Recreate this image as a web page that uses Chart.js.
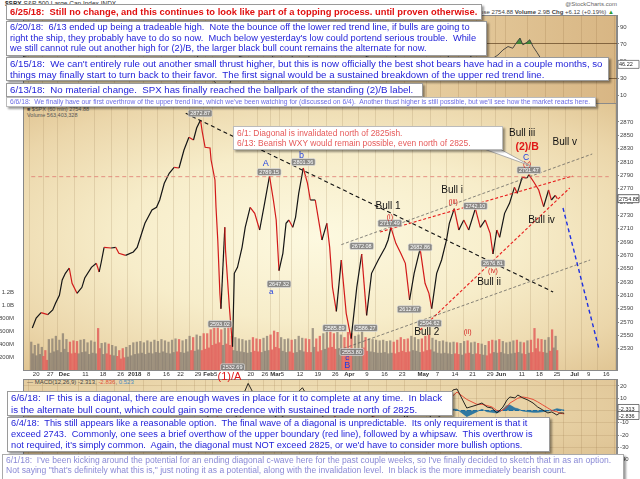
<!DOCTYPE html>
<html>
<head>
<meta charset="utf-8">
<title>SPX 60 min</title>
<script src="https://cdn.jsdelivr.net/npm/chart.js@4.4.1/dist/chart.umd.min.js"></script>
<style>
  body { margin:0; width:640px; height:479px; overflow:hidden; position:relative; background:#fff;
         font-family:"Liberation Sans", Arial, sans-serif; }
  .bg { position:absolute; left:23px; width:594px; border:1px solid #8a8a8a; box-sizing:border-box; }
  #bgRsi { top:15px; height:89px; background:linear-gradient(90deg,#f0dfb6 0%,#ecd6aa 55%,#d8b684 100%); }
  #bgPrice { top:103px; height:268px; background:radial-gradient(ellipse 75% 70% at 50% 50%,#fdf9e0 0%,#f7edca 45%,#ebd6aa 80%,#dfc391 100%); }
  #bgMacd { top:379px; height:100px; background:radial-gradient(ellipse 80% 90% at 45% 30%,#f3e5bd 0%,#e6cfa2 60%,#d9bb8b 100%); }
  canvas { position:absolute; left:0; }
  .tiny { position:absolute; font-size:6px; color:#555; white-space:nowrap; }
  .box { position:absolute; background:#fff; border:1px solid #9a9a9a; box-shadow:2px 2px 2px rgba(0,0,0,.4);
         box-sizing:border-box; padding-left:3px; z-index:5; overflow:hidden; }
  .box > div { white-space:pre; }
</style>
</head>
<body>
<div class="bg" id="bgRsi"></div>
<div class="bg" id="bgPrice"></div>
<div class="bg" id="bgMacd"></div>

<div class="tiny" style="left:5px;top:0px;font-size:6.5px;color:#333"><b>$SPX</b> S&amp;P 500 Large Cap Index INDX</div>
<div class="tiny" style="right:23px;top:1px;color:#666">@StockCharts.com</div>
<div class="tiny" style="right:26px;top:9px;color:#444">Close 2754.88 <b>Volume</b> 2.9B <b>Chg</b> +6.12 (+0.19%) <span style="color:#2a9a2a">&#9650;</span></div>
<div class="tiny" style="left:27px;top:106px;font-size:5.5px">&#9632; $SPX (60 min) 2754.88</div>
<div class="tiny" style="left:27px;top:112px;font-size:5.5px">Volume 563,403,328</div>
<div class="tiny" style="left:27px;top:379px;font-size:6px;color:#444">&#8212; MACD(12,26,9) -2.313, <span style="color:#e0503a">-2.836</span>, <span style="color:#4a8ac0">0.523</span></div>

<canvas id="cRsi" width="640" height="88" style="top:15px"></canvas>
<canvas id="cPrice" width="640" height="279" style="top:103px"></canvas>
<canvas id="cMacd" width="640" height="100" style="top:379px"></canvas>

<svg style="position:absolute;left:0;top:0;z-index:4" width="640" height="479">
  <polygon points="484,149 500,149 531,166" fill="#fff" stroke="#999" stroke-width="0.8"/>
</svg>

<div class="box" data-w="468" data-bold="1" style="left:6px;top:4px;width:476px;height:16px;line-height:14px;color:#e01010;font-weight:bold">
<div>6/25/18:  Still no change, and this continues to look like part of a topping process. until proven otherwise.</div>
</div>
<div class="box" data-w="466" style="left:6px;top:21px;width:481px;height:35px;line-height:10.7px;color:#1d1dd8">
<div>6/20/18:  6/13 ended up being a tradeable high.  Note the bounce off the lower red trend line, if bulls are going to</div>
<div>right the ship, they probably have to do so now.  Much below yesterday's low could portend serious trouble.  While</div>
<div>we still cannot rule out another high for (2)/B, the larger black bull count remains the alternate for now.</div>
</div>
<div class="box" data-w="593" style="left:6px;top:57px;width:603px;height:24px;line-height:11px;color:#1d1dd8">
<div>6/15/18:  We can't entirely rule out another small thrust higher, but this is now officially the best shot bears have had in a couple months, so</div>
<div>things may finally start to turn back to their favor.  The first signal would be a sustained breakdown of the upper red trend line.</div>
</div>
<div class="box" data-w="404" style="left:6px;top:83px;width:417px;height:14px;line-height:12px;color:#1d1dd8">
<div>6/13/18:  No material change.  SPX has finally reached the ballpark of the standing (2)/B label.</div>
</div>
<div class="box" data-w="581" style="left:6px;top:97px;width:590px;height:10px;line-height:8px;color:#6c6ce6;border-color:#bbb">
<div>6/6/18:  We finally have our first overthrow of the upper trend line, which we've been watching for (discussed on 6/4).  Another thust higher is still possible, but we'll see how the market reacts here.</div>
</div>
<div class="box" data-w="234" style="left:233px;top:126px;width:270px;height:24px;line-height:10px;padding-top:1px;color:#e65a5a;border-color:#bbb">
<div>6/1: Diagonal is invalidated north of 2825ish.</div>
<div>6/13: Bearish WXY would remain possible, even north of 2825.</div>
</div>
<div class="box" data-w="431" style="left:7px;top:391px;width:446px;height:25px;line-height:12px;color:#1d1dd8">
<div>6/6/18:  IF this is a diagonal, there are enough waves in place for it to complete at any time.  In black</div>
<div>is the alternate bull count, which could gain some credence with sustained trade north of 2825.</div>
</div>
<div class="box" data-w="522" style="left:7px;top:417px;width:543px;height:35px;line-height:11px;color:#1d1dd8">
<div>6/4/18:  This still appears like a reasonable option.  The final wave of a diagonal is unpredictable.  Its only requirement is that it</div>
<div>exceed 2743.  Commonly, one sees a brief overthow of the upper boundary (red line), followed by a whipsaw.  This overthrow is</div>
<div>not required, it's simply common.  Again, the diagonal must NOT exceed 2825, or we'd have to consider more bullish options.</div>
</div>
<div class="box" data-w="606" style="left:2px;top:454px;width:622px;height:26px;line-height:9.5px;padding-top:1px;color:#8a8ad6;border-color:#aaa">
<div>6/1/18:  I've been kicking around the potential for an ending diagonal c-wave here for the past couple weeks, so I've finally decided to sketch that in as an option.</div>
<div>Not saying "that's definitely what this is," just noting it as a potential, along with the invalidation level.  In black is the more immediately bearish count.</div>
</div>

<script>
// x values are trading-session positions counted from Nov 17, 2017 (one unit per session)
const priceX = [0.6,1.7,3.1,5.0,6.4,7.2,8.3,9.1,10.0,11.1,11.9,13.3,14.7,15.5,17.4,18.8,19.6,20.2,21.0,23.0,
  24.3,25.2,27.1,29.3,30.4,31.8,32.6,34.6,35.9,36.8,38.1,39.5,40.9,42.3,43.7,45.1,46.4,47.3,48.4,48.9,
  49.7,51.1,51.4,52.5,52.8,53.3,53.9,54.2,55.3,55.5,56.6,57.5,58.0,58.9,60.2,61.1,62.5,63.8,65.2,66.6,
  68.0,69.1,69.9,70.7,71.8,72.7,73.5,74.6,75.4,76.3,77.6,78.8,79.6,81.0,82.3,82.9,84.3,85.1,85.9,87.0,
  88.4,89.8,91.2,92.8,94.2,95.6,97.0,98.9,100.9,101.7,102.5,103.9,105.3,106.6,107.8,109.1,110.8,112.2,113.3,114.1,
  115.5,116.9,118.3,119.1,120.5,121.8,123.2,124.6,126.5,127.9,129.3,130.7,131.5,132.6,133.4,134.8,136.2,137.6,138.4,139.8,
  141.2,141.7,143.1,144.5,145.9,147.3,148.1,149.2,149.8];
const priceVal = [2561,2576,2584,2581,2588,2598,2610,2633,2643,2651,2628,2613,2622,2636,2652,2658,2645,2660,2682,2681,
  2682,2673,2670,2675,2682,2705,2718,2738,2742,2753,2778,2793,2802,2801,2828,2847,2843,2861,2873,2855,
  2832,2831,2813,2783,2742,2693,2613,2590,2712,2678,2592,2533,2643,2652,2682,2712,2742,2733,2708,2748,
  2789,2753,2723,2647,2673,2718,2723,2712,2727,2763,2801,2778,2753,2753,2712,2693,2718,2682,2622,2586,
  2663,2583,2545,2622,2672,2580,2643,2663,2682,2693,2712,2688,2673,2658,2603,2643,2680,2628,2613,2590,
  2643,2663,2693,2718,2740,2708,2723,2708,2740,2712,2723,2703,2672,2708,2697,2733,2748,2772,2763,2787,
  2786,2791,2780,2768,2743,2768,2753,2760,2755];

// volume per session in millions: busiest hourly bar and a quieter one
const volHigh = [430,380,400,350,300,470,480,520,460,
  560,470,430,450,440,460,470,420,450,430,640,410,420,400,380,360,300,330,350,380,
  420,430,440,420,450,430,460,440,470,450,430,460,480,470,450,470,520,500,540,520,560,
  560,620,650,700,620,650,680,520,500,480,470,450,460,500,480,470,490,520,540,
  600,580,500,470,480,460,470,520,490,480,470,640,480,520,560,600,620,560,580,540,500,
  580,560,520,540,600,500,480,470,460,450,460,440,450,430,460,500,470,480,520,500,470,
  480,520,540,490,460,440,450,430,420,430,420,410,440,450,420,430,410,400,380,440,460,450,
  470,440,420,430,450,460,430,420,450,460,640,480,470,460,500,620,520];
const volLow = [250,220,240,210,150,260,280,300,270,
  320,270,250,260,250,270,280,240,260,250,330,240,250,230,220,210,170,190,200,220,
  240,250,260,240,260,250,270,260,280,260,250,270,280,270,260,280,300,290,310,300,320,
  340,380,400,420,380,400,380,300,290,280,270,260,270,290,280,270,290,300,310,
  350,330,290,270,280,260,270,300,280,270,270,350,280,300,320,340,350,320,330,310,290,
  330,320,300,310,340,290,280,270,260,260,270,250,260,250,270,290,270,280,300,290,270,
  280,300,310,280,260,250,260,250,240,250,240,230,250,260,240,250,240,230,220,250,270,260,
  270,250,240,250,260,270,250,240,260,270,330,280,270,260,290,340,300];

const rsiX = [0,10,20,30,40,46,50,54,57,60,65,68,71,77,82,86,90,95,101,108,114,120,126,129,
  131.5,132.9,134.3,135.6,136.7,137.6,138.4,139.5,140.3,141.2,142.3,144.5,146.4,148,149.8];
const rsiVal = [55,65,60,68,72,82,40,22,18,55,62,70,35,68,40,28,30,55,65,35,30,70,48,50,
  57,63,67,65,72,77,69,72,75,67,60,45,52,44,46];

const macdX = [0,10,20,30,40,46,50,54,57,60,62.5,65,68,71,74,77.5,80,84,88,92,96,101,106,111,114,
  119.1,120.2,122.9,125.7,127.1,128.5,129.8,131.2,132.1,132.9,134,134.8,136.2,137,138.4,139.8,141.2,
  142.5,143.9,145.3,146.4,147.8,148.6,149.4,149.8];
const macdVal = [4,8,5,9,12,14,2,-18,-32,5,22,8,12,-12,8,18.5,6,-8,-14,-6,-8,12,-6,6,-12,
  16.7,17.5,2,4.5,6.1,2.8,2,-2,0.4,2.8,8.5,11,10.2,12.6,10.2,8.5,6.1,2.8,0.4,-2,-1.2,-3.7,-2,-2,-2.3];
const signalVal = [5,6,6,8,10,13,8,-5,-20,-8,10,14,10,2,-2,10,12,0,-8,-10,-7,2,4,0,-2,
  12,15,9,5,5,4,3,0,-0.5,0.5,3,6,8.5,10,11,10.2,9,7,4.5,2,0,-1,-2.2,-2.6,-2.8];
const histX = [119.1,120.2,122.9,125.7,127.1,128.5,129.8,131.2,132.1,132.9,134,134.8,136.2,137,138.4,
  139.8,141.2,142.5,143.9,145.3,146.4,147.8,148.6,149.4,149.8];
const histVal = [1,1,-5,-1,1,-1,-1.5,-2,-1,1,4,4.5,2,1.5,-0.5,-1,-1.5,-1.5,-1,-0.5,0,1.5,1,0.5,0.5];

// date axis: session of each labelled day and its text
const tickSession = [1,5,9,15,20,25,29,33,38,42,47,50,52,62,66,69,71,76,81,86,90,95,100,105,111,115,120,125,130,133,139,144,149,154,158,163];
const tickText = ['20','27','Dec','11','18','26','2018','8','16','22','29','Feb','5','20','26','Mar','5','12','19','26',
  'Apr','9','16','23','May','7','14','21','29','Jun','11','18','25','Jul','9','16'];
const monthText = ['Dec','2018','Feb','Mar','Apr','May','Jun','Jul'];

const priceTicks = [];
for (let p = 2530; p <= 2880; p += 10) priceTicks.push(p);
const volTicks = [200e6, 400e6, 600e6, 800e6, 1000e6, 1200e6];

// drawn lines: [session, price] end points
const trendLines = [
  { pts: [[44.2, 2883], [148.6, 2615]], c: '#111', w: 1.1, d: [4, 3] },
  { pts: [[88.4, 2686], [159.7, 2822]], c: '#555', w: 0.7, d: [3, 2] },
  { pts: [[87.8, 2528], [159.1, 2663]], c: '#555', w: 0.7, d: [3, 2] },
  { pts: [[99.4, 2705], [154.1, 2789]], c: '#e81e1e', w: 1.1, d: [3, 2] },
  { pts: [[110.8, 2558], [153.3, 2771]], c: '#e81e1e', w: 1.1, d: [3, 2] },
  { pts: [[151.4, 2741], [161.6, 2530]], c: '#2030e0', w: 1.4, d: [4, 3] },
  { pts: [[0.3, 2788], [164.4, 2788]], c: '#e07a70', w: 0.8, d: [4, 3] }
];

const waveNotes = [
  { v: 66.9, p: 2808, t: 'A', c: '#1f3fe0', s: 9 },
  { v: 77.1, p: 2819, t: 'b', c: '#1f3fe0', s: 9 },
  { v: 68.5, p: 2615, t: 'a', c: '#1f3fe0', s: 8 },
  { v: 90.1, p: 2517, t: 'c', c: '#1f3fe0', s: 8 },
  { v: 90.1, p: 2504, t: 'B', c: '#1f3fe0', s: 9 },
  { v: 56.6, p: 2487, t: '(1)/A', c: '#e01818', s: 11 },
  { v: 101.7, p: 2744, t: 'Bull 1', c: '#111', s: 10 },
  { v: 102.2, p: 2727, t: '(i)', c: '#d42020', s: 7 },
  { v: 119.9, p: 2768, t: 'Bull i', c: '#111', s: 10 },
  { v: 120.2, p: 2750, t: '(iii)', c: '#d42020', s: 7 },
  { v: 139.8, p: 2853, t: 'Bull iii', c: '#111', s: 10 },
  { v: 141.2, p: 2832, t: '(2)/B', c: '#e01818', s: 10.5, b: 'bold ' },
  { v: 140.9, p: 2817, t: 'C', c: '#1f3fe0', s: 8.5 },
  { v: 141.2, p: 2807, t: '(v)', c: '#d42020', s: 7 },
  { v: 151.9, p: 2840, t: 'Bull v', c: '#111', s: 10 },
  { v: 145.3, p: 2723, t: 'Bull iv', c: '#111', s: 10 },
  { v: 131.5, p: 2646, t: '(iv)', c: '#d42020', s: 7 },
  { v: 130.4, p: 2630, t: 'Bull ii', c: '#111', s: 10 },
  { v: 112.7, p: 2555, t: 'Bull 2', c: '#111', s: 10 },
  { v: 124.3, p: 2555, t: '(ii)', c: '#d42020', s: 7 }
];
const priceTags = [
  { v: 48.3, p: 2883, t: '2872.87' }, { v: 67.9, p: 2795, t: '2789.15' }, { v: 77.6, p: 2810, t: '2801.36' },
  { v: 70.7, p: 2627, t: '2647.32' }, { v: 53.9, p: 2567, t: '2593.02' }, { v: 57.5, p: 2502, t: '2532.69' },
  { v: 86.5, p: 2561, t: '2585.89' }, { v: 91.4, p: 2525, t: '2553.80' }, { v: 94.2, p: 2684, t: '2672.08' },
  { v: 95.3, p: 2561, t: '2586.27' }, { v: 102.2, p: 2718, t: '2717.49' }, { v: 107.7, p: 2589, t: '2612.67' },
  { v: 110.8, p: 2682, t: '2682.86' }, { v: 113.5, p: 2568, t: '2594.62' }, { v: 126.5, p: 2744, t: '2742.10' },
  { v: 131.5, p: 2658, t: '2676.81' }, { v: 141.7, p: 2798, t: '2791.47' }
];

Chart.defaults.font.family = '"Liberation Sans", Arial, sans-serif';
Chart.defaults.animation = false;
Chart.defaults.plugins.legend.display = false;
Chart.defaults.plugins.tooltip.enabled = false;

const X_MIN = 0.3, X_MAX = 164.4;
const tickFont = { size: 6 };
const plain = v => String(v);

function priceAt(v) {
  for (let i = 1; i < priceX.length; i++) {
    if (v <= priceX[i]) {
      const t = (v - priceX[i - 1]) / (priceX[i] - priceX[i - 1]);
      return priceVal[i - 1] + t * (priceVal[i] - priceVal[i - 1]);
    }
  }
  return priceVal[priceVal.length - 1];
}

function fixWidth(w) {
  return s => { s.width = w; s.paddingTop = 0; s.paddingBottom = 0; };
}
function fixHeight(h) {
  return s => { s.height = h; s.paddingLeft = 0; s.paddingRight = 0; };
}

function rightTag(ctx, area, py, text, border) {
  ctx.font = '5.5px "Liberation Sans"';
  ctx.fillStyle = '#fff';
  ctx.strokeStyle = border;
  ctx.lineWidth = 0.8;
  ctx.beginPath();
  ctx.rect(area.right + 1, py - 4, 21, 8);
  ctx.fill();
  ctx.stroke();
  ctx.fillStyle = '#222';
  ctx.textAlign = 'left';
  ctx.textBaseline = 'middle';
  ctx.fillText(text, area.right + 2, py + 0.5);
}

// volume bars
const volData = [], volColors = [];
volHigh.forEach((v, i) => {
  [[i + 0.3, v], [i + 0.75, volLow[i]]].forEach(([x, m]) => {
    volData.push({ x: x, y: m * 1e6 });
    volColors.push(priceAt(x) < priceAt(x - 0.45) ? 'rgba(226,96,92,0.85)' : 'rgba(128,118,108,0.7)');
  });
});

const notesPlugin = {
  id: 'notes',
  afterDatasetsDraw(chart) {
    const { ctx, chartArea } = chart;
    const x = chart.scales.x, y = chart.scales.y;
    ctx.save();
    ctx.textAlign = 'center';
    ctx.textBaseline = 'middle';
    ctx.font = '5.5px "Liberation Sans"';
    priceTags.forEach(n => {
      const px = x.getPixelForValue(n.v), py = y.getPixelForValue(n.p);
      const w = ctx.measureText(n.t).width + 4;
      ctx.fillStyle = 'rgba(128,128,128,0.9)';
      ctx.strokeStyle = '#e8e8e8';
      ctx.lineWidth = 0.6;
      ctx.beginPath();
      ctx.roundRect(px - w / 2, py - 3.5, w, 7, 1.5);
      ctx.fill();
      ctx.stroke();
      ctx.fillStyle = '#fff';
      ctx.fillText(n.t, px, py + 0.3);
    });
    waveNotes.forEach(n => {
      ctx.font = (n.b || '') + n.s + 'px "Liberation Sans"';
      ctx.fillStyle = n.c;
      ctx.fillText(n.t, x.getPixelForValue(n.v), y.getPixelForValue(n.p));
    });
    rightTag(ctx, chartArea, y.getPixelForValue(priceVal[priceVal.length - 1]), '2754.88', '#444');
    ctx.restore();
  }
};

new Chart(document.getElementById('cPrice'), {
  type: 'line',
  data: {
    datasets: [
      ...trendLines.map(l => ({
        type: 'line', data: l.pts.map(p => ({ x: p[0], y: p[1] })), borderColor: l.c,
        borderWidth: l.w, borderDash: l.d, pointRadius: 0, order: 0, yAxisID: 'y'
      })),
      {
        type: 'line', data: priceX.map((v, i) => ({ x: v, y: priceVal[i] })), yAxisID: 'y',
        borderColor: '#151515', borderWidth: 1.2, pointRadius: 0, order: 1,
        segment: { borderColor: c => c.p1.parsed.y < c.p0.parsed.y ? '#d21a1a' : '#151515' }
      },
      {
        type: 'bar', data: volData, yAxisID: 'vol', backgroundColor: volColors,
        barThickness: 1.6, order: 5
      }
    ]
  },
  options: {
    responsive: false,
    events: [],
    layout: { padding: 0 },
    scales: {
      x: {
        type: 'linear', min: X_MIN, max: X_MAX,
        afterBuildTicks: s => { s.ticks = tickSession.map(v => ({ value: v + 0.7 })); },
        afterFit: fixHeight(12),
        ticks: {
          autoSkip: false, maxRotation: 0, padding: 1, color: '#333',
          callback: (v, i) => tickText[i],
          font: c => ({ size: 6, weight: monthText.includes(tickText[c.index]) ? 'bold' : 'normal' })
        },
        grid: { color: 'rgba(160,130,90,0.22)', drawTicks: false },
        border: { display: false }
      },
      y: {
        position: 'right', min: 2498, max: 2898.5,
        afterBuildTicks: s => { s.ticks = priceTicks.map(v => ({ value: v })); },
        afterFit: fixWidth(23),
        ticks: { font: tickFont, color: '#444', padding: 1, callback: plain },
        grid: { color: c => c.tick && c.tick.value % 20 === 0 ? 'rgba(160,130,90,0.2)' : 'rgba(0,0,0,0)',
                tickLength: 2, tickColor: '#888' },
        border: { color: '#888' }
      },
      vol: {
        axis: 'y', position: 'left', min: 0, max: 4108e6,
        afterBuildTicks: s => { s.ticks = volTicks.map(v => ({ value: v })); },
        afterFit: fixWidth(23),
        ticks: { font: tickFont, color: '#444', padding: 1,
                 callback: v => v >= 1e9 ? (v / 1e9).toFixed(1) + 'B' : (v / 1e6) + 'M' },
        grid: { display: false },
        border: { color: '#888' }
      }
    }
  },
  plugins: [notesPlugin]
});

new Chart(document.getElementById('cRsi'), {
  type: 'line',
  data: {
    datasets: [{
      data: rsiX.map((v, i) => ({ x: v, y: rsiVal[i] })), borderColor: '#3a3a3a', borderWidth: 0.9,
      pointRadius: 0, fill: { target: { value: 70 }, above: 'rgba(45,130,45,0.85)', below: 'rgba(0,0,0,0)' }
    }]
  },
  options: {
    responsive: false,
    events: [],
    layout: { padding: { left: 23 } },
    scales: {
      x: {
        type: 'linear', min: X_MIN, max: X_MAX,
        afterBuildTicks: s => { s.ticks = tickSession.map(v => ({ value: v + 0.7 })); },
        afterFit: fixHeight(0),
        ticks: { display: false },
        grid: { color: 'rgba(150,115,70,0.22)', drawTicks: false },
        border: { display: false }
      },
      y: {
        position: 'right', min: 0.6, max: 104.1,
        afterBuildTicks: s => { s.ticks = [10, 30, 50, 70, 90].map(v => ({ value: v })); },
        afterFit: fixWidth(23),
        ticks: { font: tickFont, color: '#444', padding: 1, callback: plain },
        grid: { color: c => c.tick && (c.tick.value === 70 || c.tick.value === 30) ? 'rgba(110,80,45,0.8)' : 'rgba(0,0,0,0)',
                tickLength: 2, tickColor: '#888' },
        border: { color: '#888' }
      }
    }
  },
  plugins: [{
    id: 'rsiTag',
    afterDatasetsDraw(chart) {
      const { ctx, chartArea } = chart;
      ctx.save();
      rightTag(ctx, chartArea, chart.scales.y.getPixelForValue(rsiVal[rsiVal.length - 1]), '46.22', '#666');
      ctx.restore();
    }
  }]
});

new Chart(document.getElementById('cMacd'), {
  type: 'line',
  data: {
    datasets: [
      { data: macdX.map((v, i) => ({ x: v, y: macdVal[i] })), borderColor: '#111', borderWidth: 0.9, pointRadius: 0, order: 0 },
      { data: macdX.map((v, i) => ({ x: v, y: signalVal[i] })), borderColor: '#e8402c', borderWidth: 0.9, pointRadius: 0, order: 1 },
      { data: histX.map((v, i) => ({ x: v, y: histVal[i] })), borderColor: '#1d6e9e', borderWidth: 0.6,
        backgroundColor: 'rgba(29,110,158,0.9)', fill: 'origin', pointRadius: 0, order: 2 },
      { data: [{ x: 0.3, y: 0 }, { x: 149.8, y: 0 }], borderColor: '#1d6e9e', borderWidth: 1, borderDash: [4, 2],
        pointRadius: 0, order: 3 }
    ]
  },
  options: {
    responsive: false,
    events: [],
    layout: { padding: { left: 23 } },
    scales: {
      x: {
        type: 'linear', min: X_MIN, max: X_MAX,
        afterBuildTicks: s => { s.ticks = tickSession.map(v => ({ value: v + 0.7 })); },
        afterFit: fixHeight(0),
        ticks: { display: false },
        grid: { color: 'rgba(150,115,70,0.2)', drawTicks: false },
        border: { display: false }
      },
      y: {
        position: 'right', min: -55.7, max: 25.6,
        afterBuildTicks: s => { s.ticks = [20, 10, 0, -10, -20, -30, -40].map(v => ({ value: v })); },
        afterFit: fixWidth(23),
        ticks: { font: tickFont, color: '#444', padding: 1, callback: plain },
        grid: { color: 'rgba(150,115,70,0.18)', tickLength: 2, tickColor: '#888' },
        border: { color: '#888' }
      }
    }
  },
  plugins: [{
    id: 'macdTags',
    afterDatasetsDraw(chart) {
      const { ctx, chartArea } = chart;
      const y = chart.scales.y;
      ctx.save();
      rightTag(ctx, chartArea, y.getPixelForValue(0) - 2, '-2.313', '#555');
      rightTag(ctx, chartArea, y.getPixelForValue(0) + 5, '-2.836', '#555');
      ctx.restore();
    }
  }]
});

// scale each note box's text so its longest line fills the box like the original
(function fitBoxes() {
  const cx = document.createElement('canvas').getContext('2d');
  document.querySelectorAll('.box').forEach(b => {
    const wt = b.dataset.bold ? 'bold ' : '';
    cx.font = wt + '10px "Liberation Sans"';
    let widest = 0;
    b.querySelectorAll('div').forEach(l => {
      widest = Math.max(widest, cx.measureText(l.textContent).width);
    });
    b.style.fontSize = (10 * (+b.dataset.w) / widest).toFixed(2) + 'px';
  });
})();
</script>
</body>
</html>
